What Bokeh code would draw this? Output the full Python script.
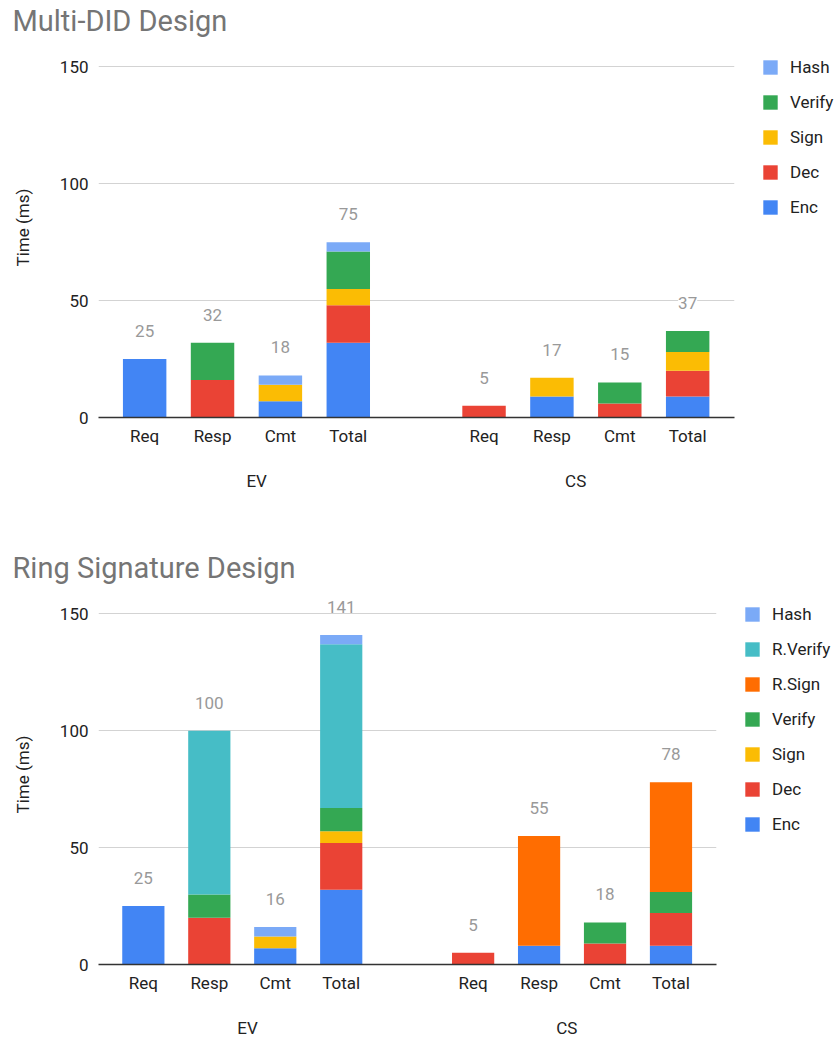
from bokeh.plotting import figure
from bokeh.models import (ColumnDataSource, Range1d, FixedTicker, Legend, LegendItem,
                          LabelSet, LinearAxis)
from bokeh.core.properties import value
from bokeh.layouts import column
from bokeh.embed import file_html
from bokeh.resources import INLINE

categories = ["Req", "Resp", "Cmt", "Total"]
groups = ["EV", "CS"]

# ---- Multi-DID Design (values in ms, order: EV Req,Resp,Cmt,Total, CS Req,Resp,Cmt,Total)
md_series = ["Enc", "Dec", "Sign", "Verify", "Hash"]
md_enc = [25, 0, 7, 32, 0, 9, 0, 9]
md_dec = [0, 16, 0, 16, 5, 0, 6, 11]
md_sign = [0, 0, 7, 7, 0, 8, 0, 8]
md_verify = [0, 16, 0, 16, 0, 0, 9, 9]
md_hash = [0, 0, 4, 4, 0, 0, 0, 0]

# ---- Ring Signature Design
rs_series = ["Enc", "Dec", "Sign", "Verify", "R.Sign", "R.Verify", "Hash"]
rs_enc = [25, 0, 7, 32, 0, 8, 0, 8]
rs_dec = [0, 20, 0, 20, 5, 0, 9, 14]
rs_sign = [0, 0, 5, 5, 0, 0, 0, 0]
rs_verify = [0, 10, 0, 10, 0, 0, 9, 9]
rs_rsign = [0, 0, 0, 0, 0, 47, 0, 47]
rs_rverify = [0, 70, 0, 70, 0, 0, 0, 0]
rs_hash = [0, 0, 4, 4, 0, 0, 0, 0]

y_ticks = [0, 50, 100, 150]

series_colors = {
    "Enc": "#4285F4",
    "Dec": "#EA4335",
    "Sign": "#FBBC04",
    "Verify": "#34A853",
    "R.Sign": "#FF6D01",
    "R.Verify": "#46BDC6",
    "Hash": "#7BAAF7",
}

FONT = "Roboto"
FRAME_TOP = 37
FRAME_H = 380
Y_END = 162.6


def make_chart(title, series, values, frame_w, border_right, border_bottom, gshift):
    xs, tick_labels = [], {}
    for gi, g in enumerate(groups):
        for ci, c in enumerate(categories):
            xv = gi * (len(categories) + 1) + ci
            xs.append(xv)
            tick_labels[xv] = c
    keys = ["s%d" % i for i in range(len(series))]
    data = {"x": xs}
    for k, v in zip(keys, values):
        data[k] = v
    totals = [sum(col[i] for col in values) for i in range(len(xs))]
    data["total"] = totals
    data["label"] = [str(t) for t in totals]
    src = ColumnDataSource(data)

    p = figure(frame_width=frame_w, frame_height=FRAME_H,
               min_border_left=98, min_border_right=border_right,
               min_border_top=FRAME_TOP, min_border_bottom=border_bottom,
               x_range=Range1d(-0.68, 8.69), y_range=Range1d(0, Y_END),
               toolbar_location=None, output_backend="svg")
    p.outline_line_color = None
    p.background_fill_color = "white"
    p.border_fill_color = "white"

    # title
    p.title.text = title
    p.title.align = "left"
    p.title.offset = -86
    p.title.standoff = 0
    p.title.vertical_align = "bottom"
    p.title.text_font = FONT
    p.title.text_font_size = "29px"
    p.title.text_font_style = "normal"
    p.title.text_color = "#757575"

    rends = p.vbar_stack(keys, x="x", width=0.64, source=src,
                         color=[series_colors[s] for s in series], line_color=None)

    # grid / axes
    p.xgrid.visible = False
    p.ygrid.grid_line_color = "#d3d3d3"
    p.ygrid.grid_line_width = 1

    ya = p.yaxis[0]
    ya.ticker = FixedTicker(ticks=y_ticks)
    ya.axis_line_color = None
    ya.major_tick_line_color = None
    ya.minor_tick_line_color = None
    ya.major_tick_out = 0
    ya.major_tick_in = 0
    ya.major_label_text_font = FONT
    ya.major_label_text_font_size = "17px"
    ya.major_label_text_color = "#222222"
    ya.major_label_standoff = 10
    ya.axis_label = "Time (ms)"
    ya.axis_label_text_font = FONT
    ya.axis_label_text_font_size = "17px"
    ya.axis_label_text_font_style = "normal"
    ya.axis_label_text_color = "#222222"
    ya.axis_label_standoff = 24

    xa = p.xaxis[0]
    xa.ticker = FixedTicker(ticks=xs)
    xa.major_label_overrides = tick_labels
    xa.axis_line_color = "#333333"
    xa.axis_line_width = 1.5
    xa.major_tick_line_color = None
    xa.minor_tick_line_color = None
    xa.major_tick_out = 0
    xa.major_tick_in = 0
    xa.major_label_text_font = FONT
    xa.major_label_text_font_size = "17px"
    xa.major_label_text_color = "#222222"
    xa.major_label_standoff = 8

    # group labels as a second axis below
    gpos, glab = [], {}
    for gi, g in enumerate(groups):
        center = gi * (len(categories) + 1) + (len(categories) - 1) / 2
        center += gshift if gi == 0 else -gshift
        gpos.append(center)
        glab[center] = g
    ga = LinearAxis(ticker=FixedTicker(ticks=gpos), major_label_overrides=glab)
    ga.axis_line_color = None
    ga.major_tick_line_color = None
    ga.minor_tick_line_color = None
    ga.major_tick_out = 0
    ga.major_tick_in = 0
    ga.major_label_text_font = FONT
    ga.major_label_text_font_size = "17px"
    ga.major_label_text_color = "#222222"
    ga.major_label_standoff = 22
    p.add_layout(ga, "below")

    # data labels
    p.add_layout(LabelSet(x="x", y="total", text="label", source=src, y_offset=28,
                          text_align="center", text_baseline="middle",
                          text_font=value(FONT), text_font_size=value("17px"),
                          text_color="#999999",
                          background_fill_color="white"))

    # legend
    items = [LegendItem(label=s, renderers=[r]) for s, r in zip(series, rends)]
    items.reverse()
    n = len(items)
    leg_h = n * 20 + (n - 1) * 15
    vy = FRAME_H - (56.7 - FRAME_TOP) - leg_h
    legend = Legend(items=items, location=(27, vy),
                    glyph_width=18, glyph_height=18, label_standoff=11,
                    spacing=15, padding=0, margin=0, label_height=20,
                    border_line_color=None, background_fill_alpha=0,
                    label_text_font=FONT, label_text_font_size="17px",
                    label_text_color="#222222", label_text_baseline="middle")
    p.add_layout(legend, "right")
    return p


p1 = make_chart("Multi-DID Design", md_series,
                [md_enc, md_dec, md_sign, md_verify, md_hash], 636, 104, 130, 0.15)
p2 = make_chart("Ring Signature Design", rs_series,
                [rs_enc, rs_dec, rs_sign, rs_verify, rs_rsign, rs_rverify, rs_hash],
                618, 122, 77, 0.08)

layout = column(p1, p2, spacing=0)
open("out.html", "w").write(file_html(layout, INLINE))
